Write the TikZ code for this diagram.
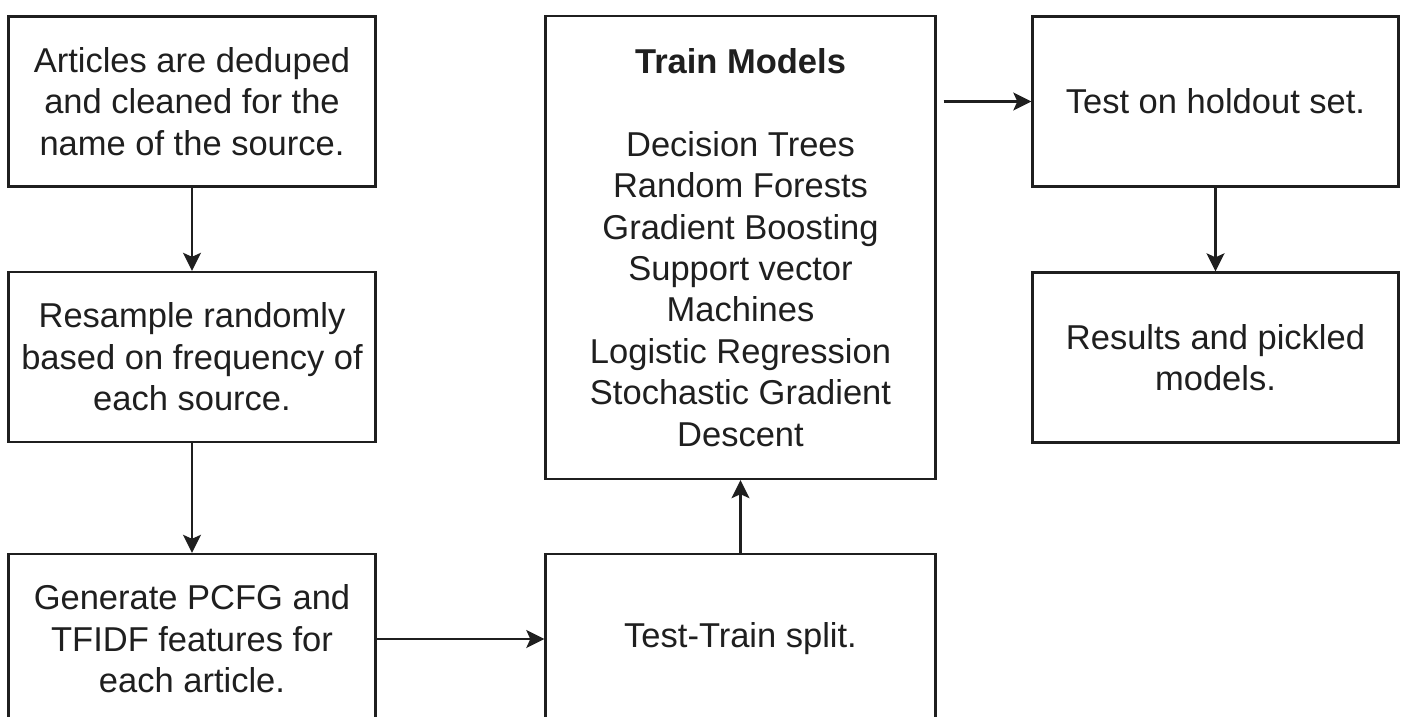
\documentclass[tikz,border=0pt]{standalone}
\usepackage{fontspec}
\setmainfont{Liberation Sans}
\usetikzlibrary{arrows.meta}

\begin{document}
\begin{tikzpicture}[x=1pt,y=-1pt,
  stepbox/.style={draw=black!88, line width=2.4pt, fill=white, inner sep=0pt,
    align=center, text=black!88,
    font=\fontsize{34.5}{41.4}\selectfont},
  flow/.style={draw=black!88, line width=2.2pt,
    -{Stealth[length=18pt,width=18pt,inset=4pt]}}
]
  % page area and clipping of the boxes that run off the lower edge
  \fill[white] (0,0) rectangle (1403,716);
  \useasboundingbox (0,0) rectangle (1403,716);
  \clip (0,0) rectangle (1403,716);

  % left column
  \node[stepbox, minimum width=367pt, minimum height=170pt] (dedup) at (192,101.5)
    {Articles are deduped\\and cleaned for the\\name of the source.};
  \node[stepbox, minimum width=367pt, minimum height=170pt] (resample) at (192,357)
    {Resample randomly\\based on frequency of\\each source.};
  \node[stepbox, minimum width=367pt, minimum height=170pt] (features) at (192,639)
    {Generate PCFG and\\TFIDF features for\\each article.};

  % middle column
  \node[stepbox, minimum width=390pt, minimum height=463pt] (train) at (740.5,247.5)
    {\textbf{Train Models}\\[41.4pt]Decision Trees\\Random Forests\\Gradient Boosting\\Support vector\\Machines\\Logistic Regression\\Stochastic Gradient\\Descent};
  \node[stepbox, minimum width=390pt, minimum height=170pt] (split) at (740.5,639)
    {Test-Train split.};

  % right column
  \node[stepbox, minimum width=366pt, minimum height=170pt] (holdout) at (1215.5,101.5)
    {Test on holdout set.};
  \node[stepbox, minimum width=366pt, minimum height=170pt] (results) at (1215.5,357.5)
    {Results and pickled\\models.};

  % connectors
  \draw[flow] (dedup) -- (resample);
  \draw[flow] (resample) -- (features);
  \draw[flow] (features) -- (split);
  \draw[flow] (split) -- (train);
  \draw[flow, shorten <=7pt] (train.east |- holdout.west) -- (holdout.west);
  \draw[flow] (holdout) -- (results);
\end{tikzpicture}
\end{document}
